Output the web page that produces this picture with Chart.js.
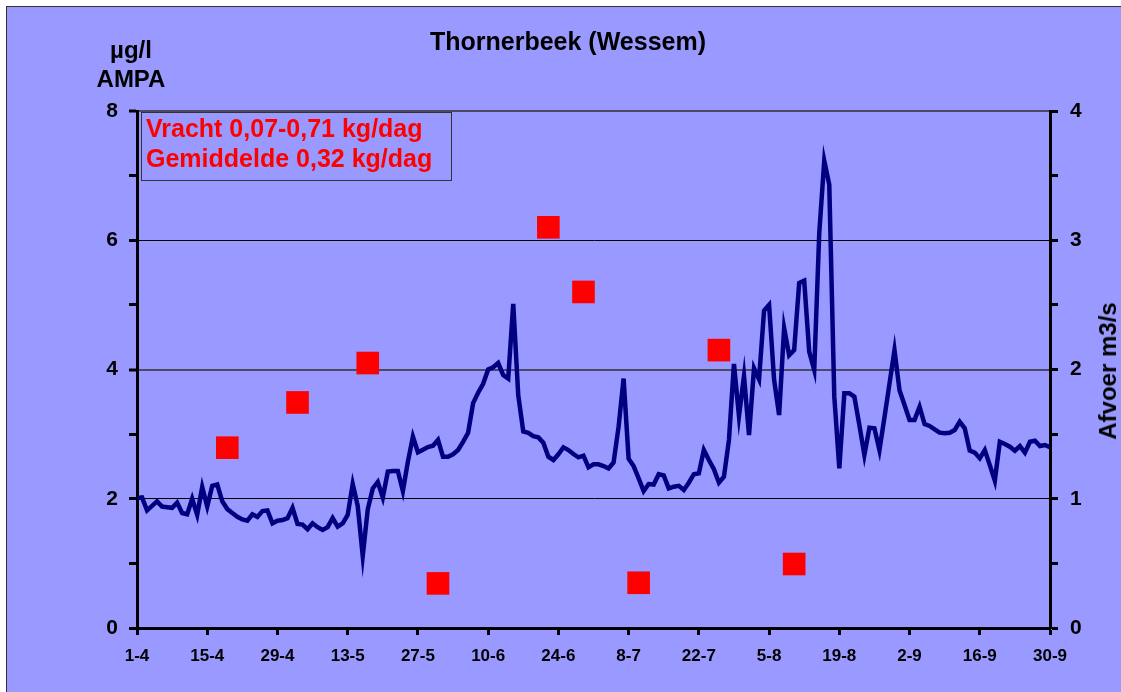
<!DOCTYPE html>
<html>
<head>
<meta charset="utf-8">
<title>Thornerbeek (Wessem)</title>
<script src="https://cdn.jsdelivr.net/npm/chart.js@4"></script>
<style>
  body { margin: 0; background: #fff; overflow: hidden; font-family: "Liberation Sans", Arial, sans-serif; }
  #panel { position: absolute; left: 6px; top: 6px; width: 1130px; height: 700px; background: #9999ff; border: 1px solid #333; }
  #chart { position: absolute; left: 0; top: 0; }
  .lbl { position: absolute; font-weight: bold; color: #000; white-space: nowrap; font-size: 25px; }
  #titel { left: 368px; top: 29px; width: 400px; text-align: center; line-height: 25px; }
  #eenheid { left: 81px; top: 35px; width: 100px; text-align: center; line-height: 29px; font-size: 24px; }
  #vracht { left: 141px; top: 112px; width: 305px; height: 67px; padding-left: 4px; border: 1px solid #333;
            color: #ff0000; line-height: 30px; }
  #afvoer-titel { left: 1108px; top: 371px; line-height: 24px; font-size: 24px; transform: translate(-50%, -50%) rotate(-90deg); }
</style>
</head>
<body>
<div id="panel"></div>
<canvas id="chart" width="1121" height="692"></canvas>
<div class="lbl" id="titel">Thornerbeek (Wessem)</div>
<div class="lbl" id="eenheid">µg/l<br>AMPA</div>
<div class="lbl" id="vracht">Vracht 0,07-0,71 kg/dag<br>Gemiddelde 0,32 kg/dag</div>
<div class="lbl" id="afvoer-titel">Afvoer m3/s</div>
<script>
// x-as: dagen vanaf 1-4 (dag 0) t/m 30-9 (dag 182)
const tickDays = [0, 14, 28, 42, 56, 70, 84, 98, 112, 126, 140, 154, 168, 182];
const tickLabels = ['1-4', '15-4', '29-4', '13-5', '27-5', '10-6', '24-6', '8-7', '22-7', '5-8', '19-8', '2-9', '16-9', '30-9'];
const leftTicks = [0, 1, 2, 3, 4, 5, 6, 7, 8];
const rightTicks = [0, 0.5, 1, 1.5, 2, 2.5, 3, 3.5, 4];

// daggemiddelde afvoer (m3/s), rechter as
const afvoer = [
  1.006, 1.01, 0.91, 0.945, 0.98, 0.94, 0.935, 0.93, 0.97, 0.89,
  0.88, 1.0, 0.875, 1.09, 0.94, 1.10, 1.11, 0.98, 0.92, 0.89,
  0.86, 0.84, 0.83, 0.88, 0.86, 0.905, 0.91, 0.81, 0.83, 0.835,
  0.85, 0.93, 0.805, 0.80, 0.764, 0.81, 0.78, 0.758, 0.78, 0.85,
  0.784, 0.81, 0.874, 1.114, 0.944, 0.557, 0.918, 1.08, 1.13, 1.01,
  1.21, 1.215, 1.215, 1.06, 1.287, 1.48, 1.36, 1.38, 1.40, 1.41,
  1.455, 1.325, 1.325, 1.344, 1.377, 1.44, 1.51, 1.74, 1.82, 1.89,
  2.0, 2.017, 2.05, 1.957, 1.93, 2.507, 1.80, 1.52, 1.51, 1.485,
  1.475, 1.434, 1.325, 1.30, 1.344, 1.398, 1.377, 1.346, 1.32, 1.333,
  1.243, 1.266, 1.266, 1.253, 1.235, 1.28, 1.557, 1.93, 1.31, 1.253,
  1.158, 1.06, 1.114, 1.11, 1.19, 1.18, 1.08, 1.093, 1.10, 1.068,
  1.124, 1.19, 1.197, 1.377, 1.30, 1.228, 1.124, 1.17, 1.455, 2.043,
  1.64, 1.95, 1.493, 2.01, 1.924, 2.455, 2.50, 1.92, 1.648, 2.32,
  2.11, 2.15, 2.67, 2.687, 2.138, 1.996, 3.054, 3.616, 3.43, 1.79,
  1.235, 1.816, 1.816, 1.79, 1.57, 1.338, 1.55, 1.545, 1.377, 1.63,
  1.89, 2.15, 1.84, 1.725, 1.61, 1.61, 1.712, 1.578, 1.563, 1.537,
  1.511, 1.506, 1.511, 1.532, 1.596, 1.545, 1.372, 1.357, 1.313, 1.377,
  1.26, 1.14, 1.441, 1.424, 1.403, 1.372, 1.408, 1.357, 1.441, 1.449,
  1.408, 1.416, 1.398
];

// AMPA metingen (µg/l), linker as
const monsterDagen = [18, 32, 46, 60, 82, 89, 100, 116, 131];
const ampa = [2.79, 3.49, 4.10, 0.69, 6.20, 5.20, 0.70, 4.30, 0.99];

const fontFamily = "'Liberation Sans', Arial, sans-serif";

function gridColor(value) {
    if (value === 0 || value % 2 !== 0) return 'rgba(0,0,0,0)';
    if (value === 4 || value === 8) return '#4a4a66';
    return '#000';
}

const ctx = document.getElementById('chart').getContext('2d');
new Chart(ctx, {
    type: 'line',
    data: {
        datasets: [
            {
                label: 'AMPA',
                data: monsterDagen.map((d, i) => ({ x: d, y: ampa[i] })),
                yAxisID: 'y',
                showLine: false,
                pointStyle: 'rect',
                pointRadius: 16,
                pointBackgroundColor: '#ff0000',
                pointBorderWidth: 0,
                order: 0
            },
            {
                label: 'Afvoer',
                data: afvoer.map((v, i) => ({ x: i, y: v })),
                yAxisID: 'y1',
                borderColor: '#000080',
                borderWidth: 4.5,
                pointRadius: 0,
                tension: 0,
                fill: false,
                order: 1
            }
        ]
    },
    options: {
        responsive: false,
        animation: false,
        layout: { padding: { top: 111, left: 0, right: 0, bottom: 0 } },
        plugins: {
            legend: { display: false },
            tooltip: { enabled: false }
        },
        scales: {
            x: {
                type: 'linear',
                position: 'bottom',
                min: 0,
                max: 182,
                afterBuildTicks: s => { s.ticks = tickDays.map(v => ({ value: v })); },
                afterFit: s => { s.height = 64; },
                ticks: {
                    callback: (v, i) => tickLabels[i],
                    autoSkip: false,
                    maxRotation: 0,
                    color: '#000',
                    padding: 11,
                    font: { family: fontFamily, size: 17, weight: 'bold' }
                },
                grid: { drawOnChartArea: false, tickLength: 7, tickColor: '#000', tickWidth: 3 },
                border: { display: true, color: '#000', width: 3 }
            },
            y: {
                position: 'left',
                min: 0,
                max: 8,
                afterBuildTicks: s => { s.ticks = leftTicks.map(v => ({ value: v })); },
                afterFit: s => { s.width = 137; },
                ticks: {
                    callback: v => (v % 2 === 0 ? v : ''),
                    color: '#000',
                    padding: 11,
                    font: { family: fontFamily, size: 21, weight: 'bold' }
                },
                grid: {
                    color: c => gridColor(c.tick.value),
                    lineWidth: c => (c.tick.value === 4 || c.tick.value === 8 ? 2 : 1),
                    tickLength: 8,
                    tickColor: '#000',
                    tickWidth: 3
                },
                border: { display: true, color: '#000', width: 3 }
            },
            y1: {
                position: 'right',
                min: 0,
                max: 4,
                afterBuildTicks: s => { s.ticks = rightTicks.map(v => ({ value: v })); },
                afterFit: s => { s.width = 71; },
                ticks: {
                    callback: v => (Number.isInteger(v) ? v : ''),
                    color: '#000',
                    padding: 12,
                    font: { family: fontFamily, size: 21, weight: 'bold' }
                },
                grid: { drawOnChartArea: false, tickLength: 8, tickColor: '#000', tickWidth: 3 },
                border: { display: true, color: '#000', width: 3 }
            }
        }
    }
});
</script>
</body>
</html>
